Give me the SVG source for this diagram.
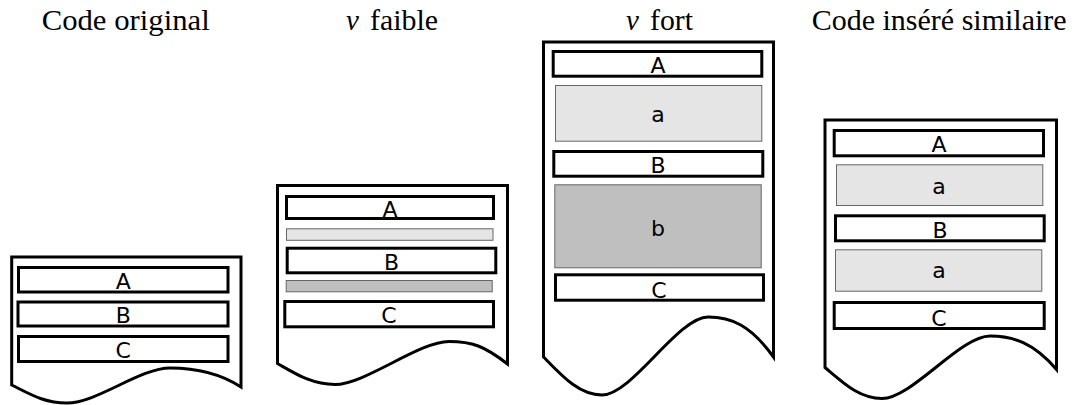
<svg xmlns="http://www.w3.org/2000/svg" width="1077" height="405" viewBox="0 0 1077 405">
<style>
.doc{fill:#fff;stroke:#000;stroke-width:3;stroke-linejoin:miter}
.box{fill:#fff;stroke:#000;stroke-width:3}
.lt{fill:#e5e5e5;stroke:#666;stroke-width:1}
.dk{fill:#bfbfbf;stroke:#666;stroke-width:1}
.lbl{font-family:"DejaVu Sans",sans-serif;font-size:22px;text-anchor:middle;fill:#000}
.title{font-family:"Liberation Serif",serif;font-size:29px;fill:#000}
</style>
<rect width="1077" height="405" fill="#fff"/>
<g id="titles">
<text class="title" x="41.7" y="30" textLength="168" lengthAdjust="spacingAndGlyphs">Code original</text>
<text class="title" x="346" y="30"><tspan font-style="italic">v</tspan></text>
<text class="title" x="370" y="30" textLength="68" lengthAdjust="spacingAndGlyphs">faible</text>
<text class="title" x="626" y="30"><tspan font-style="italic">v</tspan></text>
<text class="title" x="650" y="30" textLength="43" lengthAdjust="spacingAndGlyphs">fort</text>
<text class="title" x="811.7" y="30" textLength="255" lengthAdjust="spacingAndGlyphs">Code inséré similaire</text>
</g>
<g id="doc-original">
<path class="doc" d="M11.7,257 L241,257 L241,387 C218,372 193,368 170,368 C140,368 97,403 67,403 C44,403 30,394 11.7,385 Z"/>
<rect class="box" x="18.5" y="267.5" width="209.5" height="24.5"/>
<text class="lbl" x="123.3" y="288.5">A</text>
<rect class="box" x="18" y="302" width="210" height="24"/>
<text class="lbl" x="123.3" y="322.5">B</text>
<rect class="box" x="18.5" y="336.5" width="209.5" height="25"/>
<text class="lbl" x="123.3" y="358">C</text>
</g>
<g id="doc-faible">
<path class="doc" d="M277.5,185.5 L507.5,185.5 L507.5,364 C484.5,346 472,341.5 449,341.5 C419,341.5 365,384.5 335,384.5 C312,384.5 296,374 277.5,363.5 Z"/>
<rect class="box" x="286.5" y="196.5" width="207" height="22"/>
<text class="lbl" x="390" y="216.5">A</text>
<rect class="lt" x="286.5" y="228.8" width="206.5" height="11.5"/>
<rect class="box" x="287.2" y="248.2" width="208.6" height="24.6"/>
<text class="lbl" x="391.5" y="269.5">B</text>
<rect class="dk" x="286.2" y="280.5" width="206" height="11.3"/>
<rect class="box" x="284.8" y="301.5" width="208.7" height="25.3"/>
<text class="lbl" x="389" y="323">C</text>
</g>
<g id="doc-fort">
<path class="doc" d="M543.5,42 L773.5,42 L773.5,357 C750.5,325 731,317 708,317 C678,317 632,395 602,395 C579,395 562,376 543.5,357 Z"/>
<rect class="box" x="553.2" y="51.5" width="208.6" height="24.7"/>
<text class="lbl" x="658" y="73">A</text>
<rect class="lt" x="555.5" y="85.5" width="206.3" height="55.7"/>
<text class="lbl" x="658" y="122">a</text>
<rect class="box" x="553.8" y="151.5" width="209" height="24.7"/>
<text class="lbl" x="658" y="172.5">B</text>
<rect class="dk" x="554.8" y="184.8" width="206.4" height="83"/>
<text class="lbl" x="658" y="236">b</text>
<rect class="box" x="555.5" y="274.8" width="208" height="25.4"/>
<text class="lbl" x="659" y="297.5">C</text>
</g>
<g id="doc-similaire">
<path class="doc" d="M825,120 L1056.5,120 L1056.5,369.5 C1033.5,342.7 1013,336 990,336 C960,336 912,398.5 882,398.5 C859,398.5 843.5,383 825,367.5 Z"/>
<rect class="box" x="834.2" y="130.5" width="209.3" height="25.3"/>
<text class="lbl" x="939" y="152">A</text>
<rect class="lt" x="836.5" y="164.8" width="206.3" height="40.7"/>
<text class="lbl" x="939" y="194">a</text>
<rect class="box" x="835.5" y="215.8" width="208.7" height="25"/>
<text class="lbl" x="940" y="238">B</text>
<rect class="lt" x="835.5" y="249.8" width="206.3" height="41.4"/>
<text class="lbl" x="939" y="278">a</text>
<rect class="box" x="834.2" y="302.5" width="210" height="26"/>
<text class="lbl" x="939" y="325.5">C</text>
</g>
<g id="connectors"></g>
</svg>
